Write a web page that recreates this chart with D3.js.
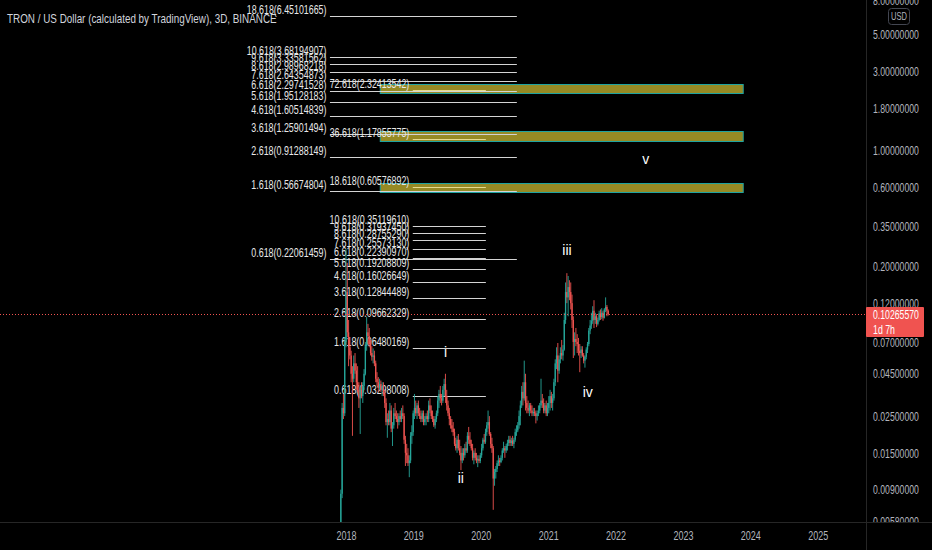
<!DOCTYPE html>
<html><head><meta charset="utf-8">
<script src="https://cdn.jsdelivr.net/npm/d3@7"></script>
<style>html,body{margin:0;padding:0;background:#000;overflow:hidden}</style>
</head><body>
<svg id="c" width="932" height="550"></svg>
<script>
// ---------------- DATA ----------------
const title = "TRON / US Dollar (calculated by TradingView), 3D, BINANCE";
const firstWeek = "2017-12-04";
const firstOpen = 0.0035;
const closes = [
0.0085,0.028,0.026,0.070,0.140,0.080,0.065,0.058,0.045,0.042,
0.052,0.047,0.040,0.036,0.032,0.036,0.033,0.038,0.045,0.066,
0.080,0.076,0.068,0.060,0.057,0.058,0.052,0.042,0.040,0.037,
0.039,0.036,0.038,0.034,0.030,0.023,0.024,0.023,0.027,0.021,
0.022,0.026,0.025,0.024,0.023,0.025,0.024,0.026,0.025,0.018,
0.015,0.0145,0.013,0.0135,0.019,0.020,0.026,0.028,0.026,0.029,
0.026,0.025,0.024,0.026,0.023,0.024,0.025,0.024,0.029,0.027,
0.025,0.024,0.022,0.024,0.026,0.031,0.034,0.032,0.031,0.036,
0.039,0.033,0.029,0.026,0.024,0.022,0.021,0.020,0.017,0.016,
0.018,0.016,0.015,0.0135,0.015,0.0145,0.016,0.0155,0.019,0.018,
0.017,0.016,0.014,0.015,0.014,0.0135,0.0138,0.0134,0.0145,0.016,
0.018,0.0175,0.020,0.022,0.023,0.0195,0.017,0.016,0.0105,0.0115,
0.012,0.013,0.0135,0.0132,0.014,0.0155,0.016,0.0155,0.0165,0.0172,
0.018,0.0172,0.0178,0.0170,0.018,0.020,0.0205,0.022,0.025,0.029,
0.035,0.032,0.040,0.030,0.028,0.027,0.029,0.027,0.026,0.0265,
0.026,0.025,0.026,0.027,0.029,0.031,0.030,0.027,0.029,0.026,
0.028,0.030,0.033,0.030,0.032,0.040,0.052,0.058,0.047,0.055,
0.060,0.058,0.063,0.095,0.140,0.130,0.150,0.140,0.120,0.095,
0.070,0.073,0.070,0.068,0.062,0.060,0.063,0.058,0.054,0.057,
0.063,0.068,0.082,0.088,0.094,0.108,0.095,0.100,0.090,0.095,
0.104,0.099,0.105,0.098,0.110,0.114,0.108,0.1026557];
const highs = [
0.0090,0.030,0.034,0.075,0.255,0.210,0.095,0.075,0.062,0.050,
0.058,0.060,0.052,0.050,0.040,0.038,0.040,0.040,0.048,0.070,
0.099,0.090,0.085,0.072,0.066,0.064,0.062,0.054,0.046,0.043,
0.042,0.041,0.040,0.040,0.036,0.032,0.026,0.027,0.030,0.029,
0.023,0.028,0.030,0.027,0.026,0.026,0.027,0.028,0.029,0.026,
0.019,0.017,0.016,0.0145,0.020,0.022,0.027,0.034,0.031,0.030,
0.031,0.028,0.027,0.027,0.027,0.025,0.026,0.027,0.031,0.032,
0.029,0.027,0.025,0.025,0.027,0.033,0.036,0.038,0.034,0.038,
0.042,0.045,0.036,0.031,0.028,0.025,0.024,0.023,0.021,0.0185,
0.019,0.0195,0.018,0.0165,0.016,0.016,0.017,0.0175,0.020,0.0215,
0.020,0.018,0.017,0.0155,0.016,0.015,0.0145,0.0145,0.015,0.017,
0.0185,0.0195,0.021,0.023,0.027,0.025,0.020,0.0185,0.0165,0.012,
0.0125,0.0135,0.0145,0.014,0.0145,0.016,0.0175,0.0165,0.017,0.018,
0.019,0.019,0.0185,0.019,0.0185,0.021,0.022,0.023,0.027,0.031,
0.038,0.040,0.054,0.045,0.033,0.031,0.030,0.030,0.029,0.028,
0.028,0.027,0.027,0.029,0.030,0.042,0.034,0.032,0.030,0.031,
0.030,0.033,0.036,0.035,0.034,0.042,0.055,0.065,0.069,0.058,
0.065,0.072,0.067,0.105,0.160,0.182,0.175,0.165,0.160,0.135,
0.100,0.080,0.085,0.078,0.074,0.068,0.066,0.066,0.060,0.058,
0.065,0.070,0.085,0.095,0.105,0.115,0.125,0.105,0.103,0.098,
0.108,0.110,0.112,0.108,0.112,0.130,0.117,0.110];
const lows = [
0.0030,0.0080,0.024,0.025,0.065,0.075,0.050,0.055,0.040,0.019,
0.040,0.045,0.036,0.035,0.028,0.0195,0.032,0.030,0.036,0.044,
0.062,0.068,0.065,0.058,0.054,0.052,0.050,0.040,0.038,0.035,
0.036,0.035,0.033,0.033,0.028,0.022,0.0185,0.022,0.022,0.020,
0.0165,0.021,0.024,0.023,0.021,0.022,0.023,0.023,0.024,0.017,
0.0125,0.013,0.0125,0.0107,0.013,0.017,0.019,0.024,0.025,0.024,
0.025,0.024,0.023,0.023,0.022,0.022,0.022,0.023,0.023,0.026,
0.024,0.023,0.0215,0.021,0.023,0.025,0.028,0.030,0.029,0.030,
0.033,0.030,0.027,0.025,0.022,0.021,0.020,0.019,0.0165,0.0155,
0.015,0.0155,0.0145,0.0118,0.013,0.0135,0.014,0.015,0.015,0.017,
0.0165,0.0155,0.0135,0.0128,0.0135,0.013,0.0123,0.013,0.013,0.014,
0.0155,0.017,0.017,0.019,0.021,0.019,0.016,0.015,0.0068,0.0095,
0.0105,0.0115,0.0125,0.0125,0.013,0.0135,0.015,0.014,0.015,0.0155,
0.0165,0.0165,0.0165,0.0165,0.016,0.0175,0.019,0.020,0.021,0.022,
0.028,0.029,0.031,0.027,0.026,0.026,0.025,0.026,0.025,0.025,
0.025,0.0226,0.0235,0.025,0.026,0.028,0.028,0.026,0.026,0.025,
0.025,0.026,0.027,0.028,0.027,0.031,0.038,0.048,0.040,0.045,
0.052,0.055,0.054,0.062,0.090,0.120,0.100,0.125,0.110,0.085,
0.056,0.058,0.066,0.060,0.058,0.046,0.056,0.057,0.052,0.049,
0.055,0.060,0.066,0.078,0.084,0.090,0.085,0.090,0.086,0.088,
0.093,0.095,0.096,0.094,0.097,0.106,0.100,0.101];

const priceTicks = [8,5,3,1.8,1,0.6,0.35,0.2,0.12,0.07,0.045,0.025,0.015,0.009,0.0058];
const yearTicks = [2018,2019,2020,2021,2022,2023,2024,2025];

const fibUpperLevels = [0.618,1.618,2.618,3.618,4.618,5.618,6.618,7.618,8.618,9.618,10.618,18.618];
const fibUpperValues = [0.22061459,0.56674804,0.91288149,1.25901494,1.60514839,1.95128183,2.29741528,2.64354873,2.98968218,3.33581562,3.68194907,6.45101665];
const fibUpperSpan = ["2017-10-06","2020-07-15"];
const fibLowerLevels = [0.618,1.618,2.618,3.618,4.618,5.618,6.618,7.618,8.618,9.618,10.618];
const fibLowerValues = [0.03298008,0.06480169,0.09662329,0.12844489,0.16026649,0.19208809,0.22390970,0.25573130,0.28755290,0.31937450,0.35119610];
const fibExtLevels = [18.618,36.618,72.618];
const fibExtValues = [0.60576892,1.17855775,2.32413542];
const fibLowerSpan = ["2018-12-29","2020-01-29"];
const targetBoxes = [[2.232,2.508],[1.147,1.318],[0.5596,0.634]];
const boxSpan = ["2018-07-03","2023-11-21"];

const waveLabels = ["i","ii","iii","iv","v"];
const waveDates = ["2019-06-24","2019-09-15","2021-04-13","2021-08-03","2022-06-14"];
const waveValues = [0.0568,0.00988,0.234,0.0326,0.829];

const lastPrice = 0.10265570;
const countdown = "1d 7h";
const currency = "USD";

// ---------------- CHART ----------------
const W = 932, H = 550, PW = 866, PH = 522;
const parse = d3.utcParse("%Y-%m-%d");
const svg = d3.select("#c");
svg.append("rect").attr("width", W).attr("height", H).attr("fill", "#000");

const x = d3.scaleUtc().domain([new Date(Date.UTC(2018,0,1)), new Date(Date.UTC(2025,0,1))]).range([346, 817.8]);
const y = d3.scaleLog().domain([0.005742, 8.0875]).range([PH, 0]);
const cy = v => Math.round(y(v)) + 0.5;

const defs = svg.append("defs");
defs.append("clipPath").attr("id","plot").append("rect").attr("width",PW).attr("height",PH);
defs.append("clipPath").attr("id","paxis").append("rect").attr("x",PW).attr("width",W-PW).attr("height",PH);

const plot = svg.append("g").attr("clip-path","url(#plot)");
const FONT = "'Liberation Sans', Arial, sans-serif";

// narrow a text horizontally to a target width, anchored at (ax, ay)
// anchor: "start" | "end" | "middle"
function narrow(sel, width, anchor) {
  sel.each(function () {
    const t = d3.select(this);
    const ax = +t.attr("x") || 0, ay = +t.attr("y") || 0;
    const L = this.getComputedTextLength();
    const w = typeof width === "function" ? width(t.text()) : width;
    const s = L > 0 ? w / L : 1;
    t.attr("x", 0).attr("y", 0).attr("text-anchor", anchor)
     .attr("transform", `translate(${ax},${ay}) scale(${s},1)`);
  });
}

// target boxes
plot.append("g").selectAll("rect").data(targetBoxes).join("rect")
  .attr("x", x(parse(boxSpan[0])) + 0.5)
  .attr("width", x(parse(boxSpan[1])) - x(parse(boxSpan[0])))
  .attr("y", d => Math.round(y(d[1])) + 0.5)
  .attr("height", d => Math.round(y(d[0])) - Math.round(y(d[1])))
  .attr("fill", "#968a24").attr("stroke", "#1fa3a0").attr("stroke-width", 1);

function fibSet(levels, values, span, color, labelColor) {
  const x0 = x(parse(span[0])), x1 = x(parse(span[1]));
  const g = plot.append("g");
  g.selectAll("line").data(values).join("line")
    .attr("x1", x0).attr("x2", x1)
    .attr("y1", d => cy(d)).attr("y2", d => cy(d))
    .attr("stroke", color).attr("stroke-width", 1);
  g.selectAll("text").data(values).join("text")
    .attr("x", x0 - 3.5).attr("y", d => cy(d) - 3)
    .attr("font-family", FONT).attr("font-size", 13)
    .attr("fill", labelColor)
    .text((d, i) => levels[i].toFixed(3) + "(" + d.toFixed(8) + ")")
    .call(narrow, s => s.length * 4.43, "end");
}
fibSet(fibUpperLevels, fibUpperValues, fibUpperSpan, "#d4d4d4", "#e8e8e8");
fibSet(fibLowerLevels, fibLowerValues, fibLowerSpan, "#d4d4d4", "#e8e8e8");
fibSet(fibExtLevels, fibExtValues, fibLowerSpan, "#e6dc8e", "#e8e8e8");

// candles
const start = parse(firstWeek);
const candles = closes.map((c, i) => ({
  t: d3.utcDay.offset(start, 7 * i),
  o: i === 0 ? firstOpen : closes[i - 1],
  h: highs[i], l: lows[i], c: c
}));
const UP = "#26a69a", DN = "#ef5350";
const cg = plot.append("g");
cg.selectAll("line").data(candles).join("line")
  .attr("x1", d => x(d.t)).attr("x2", d => x(d.t))
  .attr("y1", d => y(d.h)).attr("y2", d => y(d.l))
  .attr("stroke", d => d.c >= d.o ? UP : DN).attr("stroke-width", 0.9);
cg.selectAll("rect").data(candles).join("rect")
  .attr("x", d => x(d.t) - 0.65).attr("width", 1.3)
  .attr("y", d => y(Math.max(d.o, d.c)))
  .attr("height", d => Math.max(1, Math.abs(y(d.o) - y(d.c))))
  .attr("fill", d => d.c >= d.o ? UP : DN);

// wave labels
plot.append("g").selectAll("text").data(waveLabels).join("text")
  .attr("x", (d, i) => x(parse(waveDates[i])))
  .attr("y", (d, i) => y(waveValues[i]))
  .attr("text-anchor", "middle").attr("font-family", FONT).attr("font-size", 14)
  .attr("fill", "#ffffff").text(d => d);

// last price dotted line
plot.append("line").attr("x1", 0).attr("x2", PW)
  .attr("y1", cy(lastPrice)).attr("y2", cy(lastPrice))
  .attr("stroke", "#f05350").attr("stroke-width", 1).attr("stroke-dasharray", "1,2");

// title
svg.append("text").attr("x", 7).attr("y", 22.5)
  .attr("font-family", FONT).attr("font-size", 13).attr("fill", "#d1d4dc")
  .text(title).call(narrow, 270, "start");

// axis separators
svg.append("line").attr("x1", PW + 0.5).attr("x2", PW + 0.5).attr("y1", 0).attr("y2", H)
  .attr("stroke", "#262626");
svg.append("line").attr("x1", 0).attr("x2", W).attr("y1", PH + 0.5).attr("y2", PH + 0.5)
  .attr("stroke", "#262626");

// price axis
const ya = svg.append("g").attr("clip-path", "url(#paxis)")
  .append("g").attr("transform", `translate(${PW + 7},0)`)
  .call(d3.axisRight(y).tickValues(priceTicks).tickFormat(d => d.toFixed(8)).tickSize(0).tickPadding(0));
ya.select(".domain").remove();
ya.selectAll("text").attr("font-family", FONT).attr("font-size", 12).attr("fill", "#b2b5be")
  .attr("dy", null).attr("y", 4.2).call(narrow, 46, "start");

// time axis
const xa = svg.append("g").attr("transform", `translate(0,${PH})`)
  .call(d3.axisBottom(x).tickValues(yearTicks.map(yy => new Date(Date.UTC(yy, 0, 1))))
    .tickFormat(d3.utcFormat("%Y")).tickSize(0).tickPadding(0));
xa.select(".domain").remove();
xa.selectAll("text").attr("font-family", FONT).attr("font-size", 12).attr("fill", "#b2b5be")
  .attr("dy", null).attr("y", 18).call(narrow, 20, "middle");

// USD badge
svg.append("rect").attr("x", 888.5).attr("y", 8.5).attr("width", 21).attr("height", 16).attr("rx", 3)
  .attr("fill", "#000").attr("stroke", "#434651");
svg.append("text").attr("x", 899).attr("y", 20)
  .attr("font-family", FONT).attr("font-size", 11).attr("fill", "#b2b5be")
  .text(currency).call(narrow, 16, "middle");

// last price label
const ly = y(lastPrice);
svg.append("rect").attr("x", PW).attr("y", Math.round(ly) - 7).attr("width", 58).attr("height", 30)
  .attr("rx", 1).attr("fill", "#f05350");
svg.append("text").attr("x", 873).attr("y", Math.round(ly) + 4.5)
  .attr("font-family", FONT).attr("font-size", 12).attr("fill", "#ffffff")
  .text(lastPrice.toFixed(8)).call(narrow, 46, "start");
svg.append("text").attr("x", 873).attr("y", Math.round(ly) + 19.5)
  .attr("font-family", FONT).attr("font-size", 12).attr("fill", "#ffffff")
  .text(countdown).call(narrow, 22, "start");
</script>
</body></html>
